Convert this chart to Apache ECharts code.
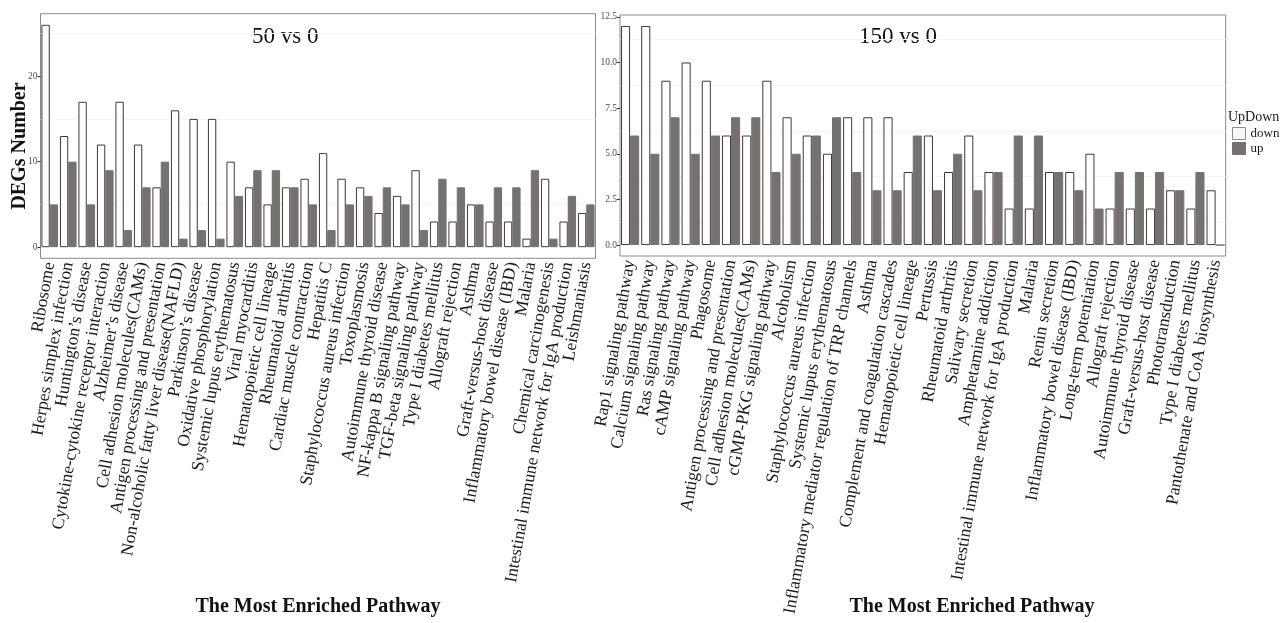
<!DOCTYPE html>
<html>
<head>
<meta charset="utf-8">
<title>DEGs per enriched pathway</title>
<script src="https://cdn.jsdelivr.net/npm/echarts@6/dist/echarts.min.js"></script>
<style>
  html, body { margin: 0; padding: 0; background: #ffffff; }
  #chart { width: 1281px; height: 623px; }
</style>
</head>
<body>
<div id="chart"></div>
<script>
// ---- 50 vs 0 ----
const pathways50 = [
  'Ribosome', 'Herpes simplex infection', 'Huntington\u2019s disease',
  'Cytokine-cytokine receptor interaction', 'Alzheimer\u2019s disease',
  'Cell adhesion molecules(CAMs)', 'Antigen processing and presentation',
  'Non-alcoholic fatty liver disease(NAFLD)', 'Parkinson\u2019s disease',
  'Oxidative phosphorylation', 'Systemic lupus erythematosus', 'Viral myocarditis',
  'Hematopoietic cell lineage', 'Rheumatoid arthritis', 'Cardiac muscle contraction',
  'Hepatitis C', 'Staphylococcus aureus infection', 'Toxoplasmosis',
  'Autoimmune thyroid disease', 'NF-kappa B signaling pathway',
  'TGF-beta signaling pathway', 'Type I diabetes mellitus', 'Allograft rejection',
  'Asthma', 'Graft-versus-host disease', 'Inflammatory bowel disease (IBD)',
  'Malaria', 'Chemical carcinogenesis',
  'Intestinal immune network for IgA production', 'Leishmaniasis'
];
const down50 = [26, 13, 17, 12, 17, 12, 7, 16, 15, 15, 10, 7, 5, 7, 8, 11, 8, 7, 4, 6, 9, 3, 3, 5, 3, 3, 1, 8, 3, 4];
const up50   = [5, 10, 5, 9, 2, 7, 10, 1, 2, 1, 6, 9, 9, 7, 5, 2, 5, 6, 7, 5, 2, 8, 7, 5, 7, 7, 9, 1, 6, 5];

// ---- 150 vs 0 ----
const pathways150 = [
  'Rap1 signaling pathway', 'Calcium signaling pathway', 'Ras signaling pathway',
  'cAMP signaling pathway', 'Phagosome', 'Antigen processing and presentation',
  'Cell adhesion molecules(CAMs)', 'cGMP-PKG signaling pathway', 'Alcoholism',
  'Staphylococcus aureus infection', 'Systemic lupus erythematosus',
  'Inflammatory mediator regulation of TRP channels', 'Asthma',
  'Complement and coagulation cascades', 'Hematopoietic cell lineage', 'Pertussis',
  'Rheumatoid arthritis', 'Salivary secretion', 'Amphetamine addiction',
  'Intestinal immune network for IgA production', 'Malaria', 'Renin secretion',
  'Inflammatory bowel disease (IBD)', 'Long-term potentiation', 'Allograft rejection',
  'Autoimmune thyroid disease', 'Graft-versus-host disease', 'Phototransduction',
  'Type I diabetes mellitus', 'Pantothenate and CoA biosynthesis'
];
const down150 = [12, 12, 9, 10, 9, 6, 6, 9, 7, 6, 5, 7, 7, 7, 4, 6, 4, 6, 4, 2, 2, 4, 4, 5, 2, 2, 2, 3, 2, 3];
const up150   = [6, 5, 7, 5, 6, 7, 7, 4, 5, 6, 7, 4, 3, 3, 6, 3, 5, 3, 4, 6, 6, 4, 3, 2, 4, 4, 4, 3, 4, 0];

// axis ticks and faint background rules
const ticks50 = [0, 10, 20];
const ticks150 = [0, 2.5, 5, 7.5, 10, 12.5];
const rules50 = [5, 15, 25];
const rules150 = [1.25, 3.75, 6.25, 8.75, 11.25];

const SERIF = '"Liberation Serif", "Times New Roman", serif';
const GREY = '#767171';

function xAxisFor(gridIndex, cats) {
  return {
    type: 'category', gridIndex: gridIndex, data: cats,
    axisLine: { show: false, onZero: false },
    axisTick: { alignWithLabel: true, length: 3, lineStyle: { color: '#333' } },
    axisLabel: {
      interval: 0, rotate: 80, margin: 4,
      fontFamily: SERIF, fontSize: 17.5, color: '#1a1a1a'
    },
    splitLine: { show: false }
  };
}

function yAxisFor(gridIndex, min, max, ticks, fmt) {
  return {
    type: 'value', gridIndex: gridIndex, min: min, max: max, position: 'left',
    axisLine: { show: false },
    splitLine: { show: false },
    axisTick: { show: true, customValues: ticks, length: 3, lineStyle: { color: '#333' } },
    axisLabel: {
      customValues: ticks, margin: 3, fontFamily: SERIF, fontSize: 9.5, color: '#4d4d4d',
      formatter: fmt
    }
  };
}

// hidden companion axis that only lays the faint background rules
function rulesAxisFor(gridIndex, min, max, rules) {
  return {
    type: 'value', gridIndex: gridIndex, min: min, max: max, position: 'right',
    axisLine: { show: false },
    axisTick: { show: false, customValues: rules },
    axisLabel: { show: false, customValues: rules },
    splitLine: { show: true, lineStyle: { color: '#f4f4f4', width: 1 } }
  };
}

function barPair(idx, downVals, upVals) {
  return [
    {
      name: 'down', type: 'bar', xAxisIndex: idx, yAxisIndex: idx, data: downVals,
      barWidth: '45%', barGap: '0%',
      itemStyle: { color: '#ffffff', borderColor: '#3a3a3a', borderWidth: 1 }
    },
    {
      name: 'up', type: 'bar', xAxisIndex: idx, yAxisIndex: idx, data: upVals,
      barWidth: '45%', barGap: '0%',
      itemStyle: { color: GREY, borderColor: GREY, borderWidth: 1 }
    }
  ];
}

const chart = echarts.init(document.getElementById('chart'), null, { renderer: 'canvas' });

chart.setOption({
  backgroundColor: '#ffffff',
  animation: false,
  grid: [
    { left: 40.5, top: 13.7, width: 555, height: 244.6, show: true,
      borderColor: '#8a8a8a', borderWidth: 1, backgroundColor: 'transparent' },
    { left: 620, top: 15, width: 605.7, height: 241, show: true,
      borderColor: '#8a8a8a', borderWidth: 1, backgroundColor: 'transparent' }
  ],
  xAxis: [xAxisFor(0, pathways50), xAxisFor(1, pathways150)],
  yAxis: [
    yAxisFor(0, -1.3, 27.3, ticks50, v => String(v)),
    yAxisFor(1, -0.6, 12.6, ticks150, v => Number(v).toFixed(1)),
    rulesAxisFor(0, -1.3, 27.3, rules50),
    rulesAxisFor(1, -0.6, 12.6, rules150)
  ],
  legend: {
    orient: 'vertical', left: 1232, top: 127, padding: 0,
    itemWidth: 13, itemHeight: 12, itemGap: 2, icon: 'rect',
    textStyle: { fontFamily: SERIF, fontSize: 13, color: '#1a1a1a' },
    data: [
      { name: 'down', itemStyle: { color: '#f7f7f7', borderColor: '#8a8a8a', borderWidth: 1 } },
      { name: 'up', itemStyle: { color: GREY, borderColor: GREY, borderWidth: 1 } }
    ],
    selectedMode: false
  },
  graphic: [
    { type: 'text', x: 252, y: 37, silent: true,
      style: { text: '50 vs 0', fontFamily: SERIF, fontSize: 23, fill: '#111',
               align: 'left', verticalAlign: 'middle' } },
    { type: 'text', x: 859, y: 37, silent: true,
      style: { text: '150 vs 0', fontFamily: SERIF, fontSize: 23, fill: '#111',
               align: 'left', verticalAlign: 'middle' } },
    { type: 'text', x: 19.5, y: 146, rotation: Math.PI / 2, silent: true,
      style: { text: 'DEGs Number', fontFamily: SERIF, fontSize: 20, fontWeight: 'bold',
               fill: '#111', align: 'center', verticalAlign: 'middle' } },
    { type: 'text', x: 318, y: 607, silent: true,
      style: { text: 'The Most Enriched Pathway', fontFamily: SERIF, fontSize: 20,
               fontWeight: 'bold', fill: '#111', align: 'center', verticalAlign: 'middle' } },
    { type: 'text', x: 972, y: 607, silent: true,
      style: { text: 'The Most Enriched Pathway', fontFamily: SERIF, fontSize: 20,
               fontWeight: 'bold', fill: '#111', align: 'center', verticalAlign: 'middle' } },
    { type: 'text', x: 1228, y: 117, silent: true,
      style: { text: 'UpDown', fontFamily: SERIF, fontSize: 14, fill: '#1a1a1a',
               align: 'left', verticalAlign: 'middle' } }
  ],
  series: [
    ...barPair(0, down50, up50),
    ...barPair(1, down150, up150)
  ]
});
</script>
</body>
</html>
